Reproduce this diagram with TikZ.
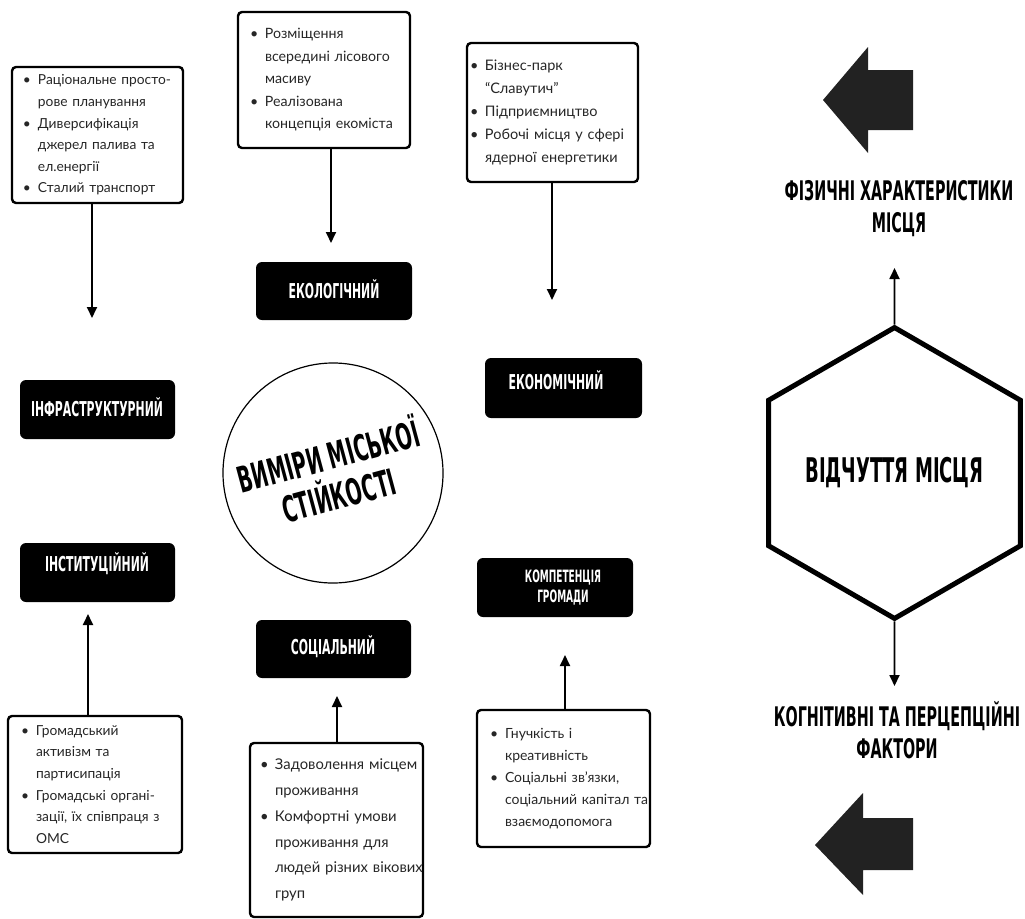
\documentclass[tikz,border=0pt]{standalone}
\usepackage{fontspec}
\setmainfont{Lato}
\newfontfamily\hd{DejaVu Sans}[FakeStretch=0.53]
\usetikzlibrary{arrows.meta,shapes.geometric}
\definecolor{arrowgray}{HTML}{222222}
\definecolor{txtgray}{HTML}{262626}
\newcommand\bul[1]{\mbox{\makebox[15pt][l]{•}#1}}
\newcommand\ind[1]{\mbox{\hspace*{15pt}#1}}
\begin{document}
\begin{tikzpicture}[x=1pt,y=-1pt,
  tbox/.style={draw, line width=2.4pt, rounded corners=4pt, align=left, inner ysep=2pt, text=txtgray},
  bbox/.style={fill=black, rounded corners=6pt, inner sep=0pt},
  lbl/.style={text=white, font=\hd\bfseries\fontsize{20.5}{22}\selectfont, align=center, inner sep=0pt},
  rlbl/.style={text=black, font=\hd\bfseries\fontsize{27}{32}\selectfont, align=center, inner sep=0pt},
  arr/.style={line width=1.8pt, -{Triangle[length=11pt,width=10pt]}}]
\useasboundingbox (0,0) rectangle (1025,918);

% text boxes
\node[tbox, minimum width=171pt, minimum height=136pt, inner xsep=11pt, text width=149pt,
  font=\fontsize{13.8}{21.6}\selectfont] (t1) at (97.5,135)
  {\bul{Раціональне просто-}\\\ind{рове планування}\\\bul{Диверсифікація}\\\ind{джерел палива та}\\\ind{ел.енергії}\\\bul{Сталий транспорт}};
\node[tbox, minimum width=172pt, minimum height=136pt, inner xsep=12pt, text width=148pt,
  font=\fontsize{14.2}{22.5}\selectfont] (t2) at (324,80)
  {\bul{Розміщення}\\\ind{всередині лісового}\\\ind{масиву}\\\bul{Реалізована}\\\ind{концепція екоміста}};
\node[tbox, minimum width=171pt, minimum height=139pt, inner xsep=3pt, text width=165pt,
  font=\fontsize{14.5}{23}\selectfont] (t3) at (552.5,112.5)
  {\bul{Бізнес-парк}\\\ind{“Славутич”}\\\bul{Підприємництво}\\\bul{Робочі місця у сфері}\\\ind{ядерної енергетики}};
\node[tbox, minimum width=174pt, minimum height=137pt, inner xsep=13pt, text width=148pt,
  font=\fontsize{13.8}{21.6}\selectfont] (t4) at (95,784.5)
  {\bul{Громадський}\\\ind{активізм та}\\\ind{партисипація}\\\bul{Громадські органі-}\\\ind{зації, їх співпраця з}\\\ind{ОМС}};
\node[tbox, minimum width=173pt, minimum height=174pt, inner xsep=10pt, text width=153pt,
  font=\fontsize{14.8}{25.8}\selectfont] (t5) at (336.5,830)
  {\bul{Задоволення місцем}\\\ind{проживання}\\\bul{Комфортні умови}\\\ind{проживання для}\\\ind{людей різних вікових}\\\ind{груп}};
\node[tbox, minimum width=173pt, minimum height=137pt, inner xsep=13pt, text width=147pt,
  font=\fontsize{14}{22}\selectfont] (t6) at (563.5,778.5)
  {\bul{Гнучкість і}\\\ind{креативність}\\\bul{Соціальні зв'язки,}\\\ind{соціальний капітал та}\\\ind{взаємодопомога}};

% black boxes
\node[bbox, minimum width=155pt, minimum height=59pt] (infra) at (97.5,409.5) {};
\node[lbl] (infra-t) at (97,407) {ІНФРАСТРУКТУРНИЙ};
\node[bbox, minimum width=155pt, minimum height=59pt] (inst) at (97.5,572.5) {};
\node[lbl] (inst-t) at (97,564) {ІНСТИТУЦІЙНИЙ};
\node[bbox, minimum width=156pt, minimum height=58pt] (eco) at (334,291) {};
\node[lbl] (eco-t) at (334,289) {ЕКОЛОГІЧНИЙ};
\node[bbox, minimum width=155pt, minimum height=58pt] (soc) at (333.5,649) {};
\node[lbl] (soc-t) at (333,647) {СОЦІАЛЬНИЙ};
\node[bbox, minimum width=157pt, minimum height=60pt] (econ) at (563.5,388) {};
\node[lbl] (econ-t) at (556,380) {ЕКОНОМІЧНИЙ};
\node[bbox, minimum width=156pt, minimum height=59pt] (comp) at (555,587.5) {};
\node[lbl, font=\hd\bfseries\fontsize{17}{20}\selectfont] (comp-t) at (563,588) {КОМПЕТЕНЦІЯ\\ГРОМАДИ};

% centre circle
\node[circle, draw, line width=1.2pt, minimum size=220pt, inner sep=0pt, rotate=15, align=center,
  font=\hd\bfseries\fontsize{36}{40}\selectfont] (circ) at (333,473) {ВИМІРИ МІСЬКОЇ\\СТІЙКОСТІ};

% connectors
\coordinate (a1) at (92,318);
\coordinate (a2) at (331,243);
\coordinate (a3) at (552,300);
\coordinate (a4) at (88,614);
\coordinate (a5) at (337,696);
\coordinate (a6) at (565,655);
\draw[arr] (a1 |- t1.south) -- (a1);
\draw[arr] (a2 |- t2.south) -- (a2);
\draw[arr] (a3 |- t3.south) -- (a3);
\draw[arr] (a4 |- t4.north) -- (a4);
\draw[arr] (a5 |- t5.north) -- (a5);
\draw[arr] (a6 |- t6.north) -- (a6);

% hexagon
\node[draw, line width=5pt, regular polygon, regular polygon sides=6, shape border rotate=90,
  minimum size=284pt, inner sep=0pt, font=\hd\bfseries\fontsize{34}{36}\selectfont] (hex) at (894.5,473) {ВІДЧУТТЯ МІСЦЯ};
\coordinate (ptop) at (894.5,268);
\coordinate (pbot) at (894.5,686);
\draw[arr] (hex.north) -- (ptop);
\draw[arr] (hex.south) -- (pbot);

\node[rlbl] (phys) at (899,209) {ФІЗИЧНІ ХАРАКТЕРИСТИКИ\\МІСЦЯ};
\node[rlbl] (cogn) at (897,730) {КОГНІТИВНІ ТА ПЕРЦЕПЦІЙНІ\\ФАКТОРИ};

% block arrows
\fill[arrowgray] (823,100) -- (868,47) -- (868,70) -- (913,70) -- (913,130) -- (868,130) -- (868,153) -- cycle;
\fill[arrowgray] (815,845) -- (863,793) -- (863,818) -- (913,818) -- (913,870) -- (863,870) -- (863,895) -- cycle;
\end{tikzpicture}
\end{document}
